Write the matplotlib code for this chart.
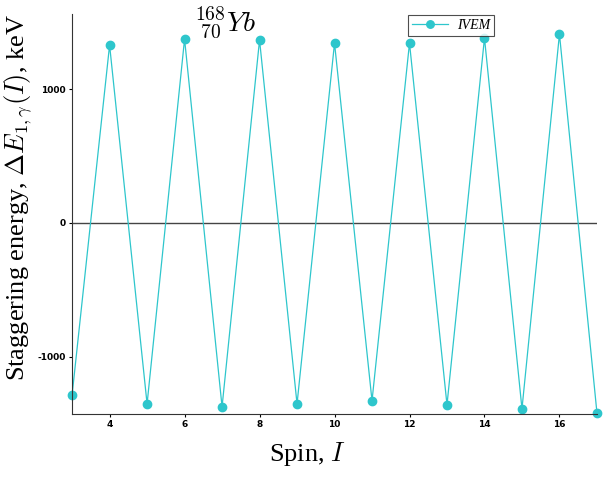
import matplotlib
matplotlib.use("Agg")
import matplotlib.pyplot as plt

spin = [3, 4, 5, 6, 7, 8, 9, 10, 11, 12, 13, 14, 15, 16, 17]
staggering = [-1284, 1328, -1351, 1373, -1373, 1366, -1351, 1343,
              -1328, 1343, -1358, 1381, -1388, 1410, -1418]
xticks = [4, 6, 8, 10, 12, 14, 16]
yticks = [-1000, 0, 1000]

plt.rcParams['mathtext.fontset'] = 'cm'
plt.rcParams['axes.unicode_minus'] = False

fig = plt.figure(figsize=(6.11, 4.84), dpi=100)
ax = fig.add_axes([0.118, 0.145, 0.859, 0.826])

color = '#2ec6cc'
ax.plot(spin, staggering, '-', color=color, lw=0.9, marker='o', ms=6,
        markerfacecolor=color, markeredgecolor=color, label='IVEM', clip_on=False)
ax.axhline(0, color='#444444', lw=1.0, zorder=0)

ax.set_xlim(3, 17)
ax.set_ylim(-1425, 1560)
ax.set_xticks(xticks)
ax.set_yticks(yticks)
for lbl in ax.get_xticklabels() + ax.get_yticklabels():
    lbl.set_fontsize(6.5)
    lbl.set_fontweight('bold')
ax.tick_params(direction='out', length=2.5, width=0.8, pad=2)

for s in ['top', 'right']:
    ax.spines[s].set_visible(False)
for s in ['left', 'bottom']:
    ax.spines[s].set_color('#333333')

ax.set_xlabel(r'Spin, $I$', fontsize=19, family='Liberation Serif')
ax.xaxis.set_label_coords(0.448, -0.065)
ax.set_ylabel(r'Staggering energy, $\Delta E_{1,\gamma}(I)$, keV', fontsize=19,
              family='Liberation Serif')
ax.yaxis.set_label_coords(-0.072, 0.54)

fig.text(0.318, 0.955, r'${}^{168}_{\ 70}Yb$', fontsize=20, ha='left', va='center')

leg = ax.legend(loc='upper left', bbox_to_anchor=(0.635, 1.005), frameon=True,
                fancybox=False, edgecolor='#222222',
                prop={'family': 'Liberation Serif', 'style': 'italic', 'size': 10},
                handlelength=2.6, handletextpad=0.6, borderpad=0.3,
                borderaxespad=0.2, markerscale=0.9)
leg.get_frame().set_linewidth(0.8)

fig.savefig('out.png', dpi=100)
